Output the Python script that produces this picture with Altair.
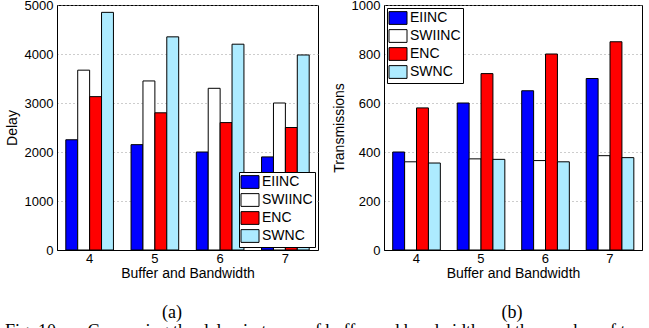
import altair as alt
import pandas as pd

groups = ["4", "5", "6", "7"]
series = ["EIINC", "SWIINC", "ENC", "SWNC"]
colors = ["#0000FF", "#FFFFFF", "#FF0000", "#ADEBFF"]

delay_EIINC = [2250, 2150, 2000, 1900]
delay_SWIINC = [3670, 3450, 3300, 3000]
delay_ENC = [3130, 2800, 2600, 2500]
delay_SWNC = [4850, 4350, 4200, 3980]

tx_EIINC = [400, 600, 650, 700]
tx_SWIINC = [360, 372, 365, 385]
tx_ENC = [580, 720, 800, 850]
tx_SWNC = [355, 370, 360, 377]

delay_ticks = [0, 1000, 2000, 3000, 4000, 5000]
tx_ticks = [0, 200, 400, 600, 800, 1000]

caption = "Fig.\u00a010.\u00a0\u00a0\u00a0\u00a0\u00a0\u00a0Comparing the delay in terms of buffer and bandwidth and the number of transmissions"


def long_df(cols):
    rows = []
    for s, vals in zip(series, cols):
        for g, v in zip(groups, vals):
            rows.append({"group": g, "series": s, "value": v})
    return pd.DataFrame(rows)


delay_df = long_df([delay_EIINC, delay_SWIINC, delay_ENC, delay_SWNC])
tx_df = long_df([tx_EIINC, tx_SWIINC, tx_ENC, tx_SWNC])

FONT = "Liberation Sans"


def panel(df, ytitle, ticks, legend_orient, width):
    return alt.Chart(df).mark_bar(stroke="black", strokeWidth=1).encode(
        x=alt.X("group:N", sort=groups,
                scale=alt.Scale(paddingInner=0.27, paddingOuter=0.135),
                axis=alt.Axis(title="Buffer and Bandwidth", labelAngle=0, ticks=False,
                              labelPadding=2, titlePadding=1, grid=False)),
        xOffset=alt.XOffset("series:N", sort=series,
                            scale=alt.Scale(paddingInner=0, paddingOuter=0)),
        y=alt.Y("value:Q", scale=alt.Scale(domain=[ticks[0], ticks[-1]], nice=False),
                axis=alt.Axis(title=ytitle, values=ticks, ticks=False, labelPadding=4,
                              titlePadding=5, grid=True, gridDash=[1, 3],
                              gridColor="#9a9a9a", format="d")),
        color=alt.Color("series:N", sort=series,
                        scale=alt.Scale(domain=series, range=colors),
                        legend=alt.Legend(title=None, orient=legend_orient, offset=3,
                                          fillColor="white", strokeColor="black",
                                          padding=2, rowPadding=0, symbolOffset=1,
                                          symbolType="M-1.2,-0.85L1.2,-0.85L1.2,0.85L-1.2,0.85Z",
                                          symbolSize=225, symbolStrokeColor="black",
                                          symbolStrokeWidth=1, symbolOpacity=1,
                                          labelFontSize=14, labelFont=FONT,
                                          labelColor="black", labelOffset=4)),
    ).properties(width=width, height=245)


left = panel(delay_df, "Delay", delay_ticks, "bottom-right", 261)
right = panel(tx_df, "Transmissions", tx_ticks, "top-left", 258)

one = pd.DataFrame({"k": [0]})
lab_a = alt.Chart(one).mark_text(text="(a)", font="Liberation Serif", fontSize=18,
                                 baseline="alphabetic", align="center", color="black").encode(
    x=alt.value(172 - 57), y=alt.value(36))
lab_b = alt.Chart(one).mark_text(text="(b)", font="Liberation Serif", fontSize=18,
                                 baseline="alphabetic", align="center", color="black").encode(
    x=alt.value(512 - 57), y=alt.value(36))
cap = alt.Chart(one).mark_text(text=caption, font="Liberation Serif", fontSize=18,
                               baseline="alphabetic", align="left", color="black").encode(
    x=alt.value(5 - 57), y=alt.value(55))
bottom = alt.layer(lab_a, lab_b, cap).properties(
    width=592, height=40, view=alt.ViewBackground(stroke="transparent"))

top = alt.hconcat(left, right, spacing=12)

chart = alt.vconcat(top, bottom, spacing=0).properties(
    autosize=alt.AutoSizeParams(type="none"),
    padding={"left": 57, "top": 5, "right": 592, "bottom": 323},
    background="white"
).configure_view(stroke="black", strokeWidth=1).configure_axis(
    domainColor="black", labelColor="black", titleColor="black",
    labelFont=FONT, titleFont=FONT, labelFontSize=13, titleFontSize=14,
    titleFontWeight="normal"
)

chart.save("out.html", embed_options={"renderer": "svg", "actions": False})
